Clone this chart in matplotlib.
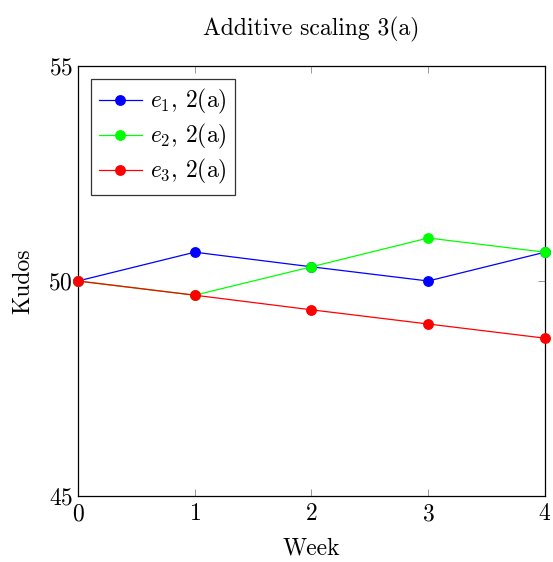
import matplotlib
matplotlib.use("Agg")
import matplotlib.pyplot as plt

plt.rcParams["font.family"] = "serif"
plt.rcParams["font.serif"] = ["cmr10"]
plt.rcParams["mathtext.fontset"] = "cm"
plt.rcParams["axes.unicode_minus"] = False
plt.rcParams["axes.formatter.use_mathtext"] = True

weeks = [0, 1, 2, 3, 4]
e1 = [50, 50.67, 50.33, 50, 50.67]
e2 = [50, 49.67, 50.33, 51, 50.67]
e3 = [50, 49.67, 49.33, 49, 48.67]
labels = [r"$e_1$, 2(a)", r"$e_2$, 2(a)", r"$e_3$, 2(a)"]
colors = ["#0000ff", "#00ff00", "#ff0000"]

fs = 17

fig = plt.figure(figsize=(5.53, 5.62), dpi=100)
ax = fig.add_axes([0.141, 0.1174, 0.8445, 0.7652])

for ys, lab, c in zip([e1, e2, e3], labels, colors):
    ax.plot(weeks, ys, color=c, lw=0.9, marker="o", markersize=6.8, label=lab,
            clip_on=False, zorder=3)

ax.set_xlim(0, 4)
ax.set_ylim(45, 55)
ax.set_xticks(weeks)
ax.set_yticks([45, 50, 55])
ax.tick_params(direction="in", top=True, right=True, length=5, width=0.6,
               color="#888888", labelsize=fs)
ax.tick_params(axis="x", pad=5)
ax.set_xlabel("Week", fontsize=fs, labelpad=9)
ax.set_ylabel("Kudos", fontsize=fs, labelpad=10)
ax.set_title("Additive scaling 3(a)", fontsize=fs, pad=22)
for s in ax.spines.values():
    s.set_linewidth(0.9)

leg = ax.legend(loc="upper left", fontsize=fs, frameon=True, fancybox=False,
                edgecolor="black", handlelength=1.8, borderaxespad=0.55,
                labelspacing=0.25, handletextpad=0.35, borderpad=0.35)
leg.get_frame().set_linewidth(0.9)

fig.savefig("out.png", dpi=100)
